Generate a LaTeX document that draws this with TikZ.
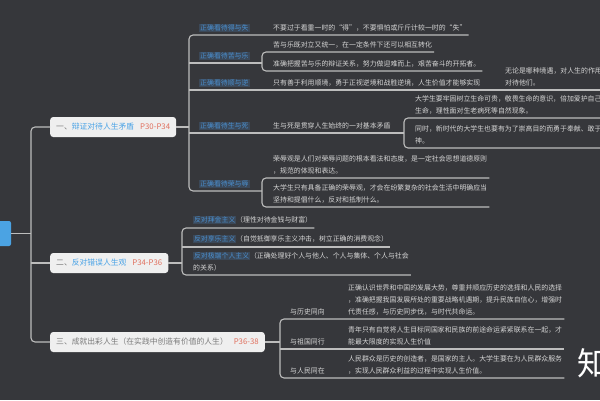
\documentclass[tikz,border=0pt]{standalone}
\usepackage{fontspec}
\usepackage{xcolor}
\usepackage{tikz}
\usetikzlibrary{positioning, calc}
\setmainfont{Noto Sans CJK SC}
\definecolor{boardbg}{HTML}{36373B}
\definecolor{linkgray}{HTML}{BDBDBD}
\definecolor{leaftext}{HTML}{D6D6D6}
\definecolor{tagblue}{HTML}{4A8FCF}
\definecolor{tagbg}{HTML}{3B4858}
\definecolor{topicfill}{HTML}{EFEFEF}
\definecolor{topicgray}{HTML}{7A7A7A}
\definecolor{topicblue}{HTML}{4AA3E6}
\definecolor{pagered}{HTML}{E0705E}
\definecolor{rootblue}{HTML}{4BA3E3}
\newcommand{\hltag}[1]{{\setlength{\fboxsep}{0.8pt}\colorbox{tagbg}{\color{tagblue}#1}}}

\begin{document}
\begin{tikzpicture}[x=1pt, y=-1pt,
  link/.style={linkgray, line width=1.1pt},
  bracket/.style={link, rounded corners=4pt},
  topic/.style={fill=topicfill, rounded corners=3pt, anchor=west, minimum height=20pt,
    inner xsep=6pt, font=\fontsize{7.8}{9}\selectfont, text=topicgray},
  tag/.style={fill=tagbg, text=tagblue, anchor=south west, inner xsep=1pt, inner ysep=1pt,
    yshift=2.5pt, font=\fontsize{6.9}{8}\selectfont},
  leaf/.style={anchor=south west, inner xsep=2pt, inner ysep=3.5pt, align=left,
    text=leaftext, font=\fontsize{6.9}{12}\selectfont}]

% ---- board ---------------------------------------------------------------
\fill[boardbg] (0,0) rectangle (600,400);
\useasboundingbox (0,0) rectangle (600,400);

% ---- root and main topics -------------------------------------------------
\node[fill=rootblue, rounded corners=2pt, minimum width=20pt, minimum height=25pt,
  inner sep=0pt] (root) at (1,233.5) {};
\node[topic] (one) at (50,127)
  {一、\textcolor{topicblue}{辩证对待人生矛盾}\hspace{6pt}\textcolor{pagered}{P30-P34}};
\node[topic] (two) at (50,263)
  {二、\textcolor{topicblue}{反对错误人生观}\hspace{6pt}\textcolor{pagered}{P34-P36}};
\node[topic] (three) at (50,342)
  {三、成就出彩人生（在实践中创造有价值的人生）\hspace{6pt}\textcolor{pagered}{P36-38}};

\coordinate (trunk) at (31,233.5);
\draw[link] (root.east) -- (trunk);
\draw[bracket] (one.west) -| (trunk) |- (three.west);
\draw[link] (two.west) -- (two.west -| trunk);

% ---- branch one ------------------------------------------------------------
\coordinate (b1) at (189,127);
\draw[link] (one.east) -- (b1);

\node[tag] (dsa) at (199,35) {正确看待得与失};
\node[leaf] (dsat) at (271,35) {不要过于看重一时的“得”，不要惧怕或斤斤计较一时的“失”};

\node[tag] (kla) at (199,63) {正确看待苦与乐};
\coordinate (klb) at (262,63);
\node[leaf] (kl1) at (271,52) {苦与乐既对立又统一，在一定条件下还可以相互转化};
\node[leaf] (kl2) at (271,71) {准确把握苦与乐的辩证关系，努力做迎难而上，艰苦奋斗的开拓者。};

\node[tag] (sna) at (199,90) {正确看待顺与逆};
\node[leaf] (snat) at (271,90) {只有善于利用顺境，勇于正视逆境和战胜逆境，人生价值才能够实现};
\node[leaf] (snb) at (503,90) {无论是哪种境遇，对人生的作用\\对待他们。};

\node[tag] (ssa) at (199,133) {正确看待生与死};
\node[leaf] (ssat) at (271,133) {生与死是贯穿人生始终的一对基本矛盾};
\coordinate (ssb) at (404,133);
\node[leaf] (ss1) at (413,118)
  {大学生要牢固树立生命可贵，敬畏生命的意识，倍加爱护自己的\\生命，理性面对生老病死等自然现象。};
\node[leaf] (ss2) at (413,148)
  {同时，新时代的大学生也要有为了崇高目的而勇于奉献、敢于牺牲的精\\神。};

\node[tag] (rra) at (199,191) {正确看待荣与辱};
\coordinate (rrb) at (262,191);
\node[leaf] (rr1) at (271,178)
  {荣辱观是人们对荣辱问题的根本看法和态度，是一定社会思想道德原则\\，规范的体现和表达。};
\node[leaf] (rr2) at (271,207)
  {大学生只有具备正确的荣辱观，才会在纷繁复杂的社会生活中明确应当\\坚持和提倡什么，反对和抵制什么。};

\draw[bracket] (dsat.south east) -- (b1 |- dsat.south east) -- (b1 |- rrb) -- (rrb);
\draw[link] (b1 |- klb) -- (klb);
\draw[link] (b1 |- snat.south) -- (snb.south east);
\draw[link] (b1 |- ssb) -- (ssb);
\draw[bracket] (kl1.south east) -- (klb |- kl1.south) -- (klb |- kl2.south) -- (kl2.south east);
\draw[bracket] (ss1.south east) -- (ssb |- ss1.south) -- (ssb |- ss2.south) -- (ss2.south east);
\draw[bracket] (rr1.south east) -- (rrb |- rr1.south) -- (rrb |- rr2.south) -- (rr2.south east);

% ---- branch two ------------------------------------------------------------
\coordinate (b2) at (182,263);
\draw[link] (two.east) -- (b2);
\node[leaf] (jq) at (191,228) {\hltag{反对拜金主义}（理性对待金钱与财富）};
\node[leaf] (xl) at (191,247) {\hltag{反对享乐主义}（自觉抵御享乐主义冲击，树立正确的消费观念）};
\node[leaf] (gr) at (191,275)
  {\hltag{反对极端个人主义}（正确处理好个人与他人、个人与集体、个人与社会\\的关系）};
\draw[bracket] (jq.south east) -- (b2 |- jq.south) -- (b2 |- gr.south) -- (gr.south east);
\draw[link] (b2 |- xl.south) -- (xl.south east);

% ---- branch three ----------------------------------------------------------
\coordinate (b3) at (280,342);
\draw[link] (three.east) -- (b3);
\node[leaf] (ls) at (288,319) {与历史同向};
\node[leaf] (lst) at (346,319)
  {正确认识世界和中国的发展大势，尊重并顺应历史的选择和人民的选择\\，准确把握我国发展所处的重要战略机遇期，提升民族自信心，增强时\\代责任感，与历史同步伐，与时代共命运。};
\node[leaf] (zg) at (288,349) {与祖国同行};
\node[leaf] (zgt) at (346,349)
  {青年只有自觉将人生目标同国家和民族的前途命运紧紧联系在一起，才\\能最大限度的实现人生价值};
\node[leaf] (rm) at (288,378) {与人民同在};
\node[leaf] (rmt) at (346,378)
  {人民群众是历史的创造者，是国家的主人。大学生要在为人民群众服务\\，实现人民群众利益的过程中实现人生价值。};
\draw[bracket] (lst.south east) -- (b3 |- lst.south) -- (b3 |- rmt.south) -- (rmt.south east);
\draw[link] (b3 |- zgt.south) -- (zgt.south east);

% ---- watermark -------------------------------------------------------------
\node[anchor=west, text=white, inner sep=0pt, font=\fontsize{32}{32}\selectfont] (mark)
  at (577,363) {知};
\end{tikzpicture}
\end{document}
